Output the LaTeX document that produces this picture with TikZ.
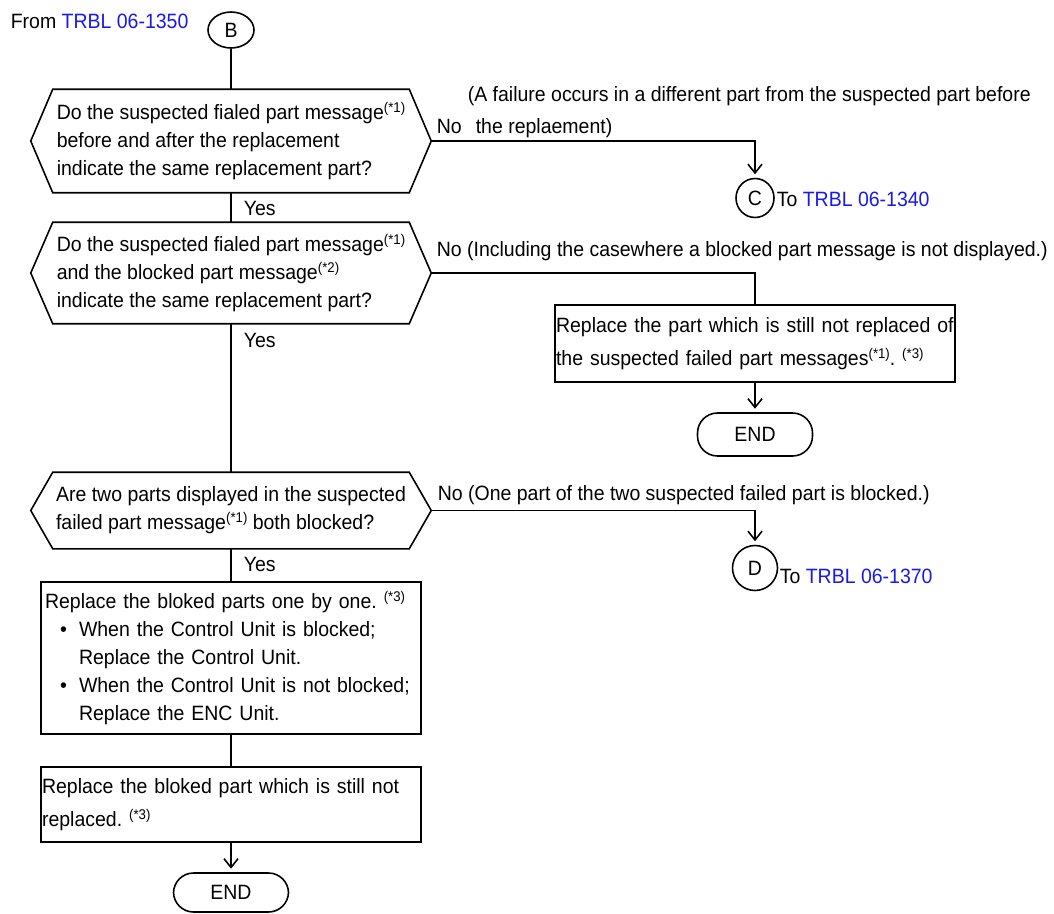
\documentclass[tikz,border=0pt]{standalone}
\usepackage{fontspec}
\setmainfont[FakeStretch=0.94]{Liberation Sans}
\usepackage{tikz}
\usetikzlibrary{arrows.meta,shapes.geometric}
\definecolor{linkblue}{RGB}{25,25,235}
\newcommand{\fnote}[1]{\raisebox{4pt}{\fontsize{8}{8}\selectfont(*#1)}}
\newcommand{\trbl}[1]{\textcolor{linkblue}{TRBL #1}}
\newcommand{\bul}{\makebox[0.68cm][r]{\textbullet\hspace{0.24cm}}}
\tikzset{decision/.style={align=left,inner sep=0pt,minimum width=7.98cm}}
\tikzset{process/.style={draw,align=left,inner ysep=0pt}}
\tikzset{terminal/.style={draw,rounded corners=0.4cm,minimum width=2.3cm}}
\tikzset{connector/.style={draw,ellipse,inner sep=0pt}}
\tikzset{note/.style={anchor=base west,inner sep=0pt}}
\tikzset{flowline/.style={-{Straight Barb[length=5pt,width=8pt]},shorten >=2pt}}
\frenchspacing

\begin{document}
\begin{tikzpicture}[x=0.02cm,y=-0.02cm,line width=0.9pt,
        font=\fontsize{11.8}{16}\selectfont]
    \useasboundingbox (0,0) rectangle (1054,913);
    \node[note] (from) at (10,28) {From \trbl{06-1350}};
    \node[connector,minimum width=0.92cm,minimum height=0.72cm] (B) at (231,30) {B};
    \node[decision,minimum height=2.04cm] (dec1) at (231,141)
        {Do the suspected fialed part message\fnote1\\
         before and after the replacement\\
         indicate the same replacement part?};
    \node[decision,minimum height=2cm] (dec2) at (231,273)
        {Do the suspected fialed part message\fnote1\\
         and the blocked part message\fnote2\\
         indicate the same replacement part?};
    \node[decision,minimum height=1.5cm] (dec3) at (231,510.5)
        {Are two parts displayed in the suspected\\
         failed part message\fnote1{} both blocked?};
    \foreach \d in {dec1,dec2,dec3}
        \draw (\d.west) -- ([xshift=0.44cm]\d.north west) -- ([xshift=-0.44cm]\d.north east)
            -- (\d.east) -- ([xshift=-0.44cm]\d.south east) -- ([xshift=0.44cm]\d.south west) -- cycle;
    \node[process,minimum height=3.04cm,text width=7.44cm,inner xsep=0.08cm] (rep1) at (231,658)
        {Replace the bloked parts one by one. \fnote3\\
         \bul When the Control Unit is blocked;\\
         \hspace*{0.68cm}Replace the Control Unit.\\
         \bul When the Control Unit is not blocked;\\
         \hspace*{0.68cm}Replace the ENC Unit.};
    \node[process,minimum height=1.5cm,text width=7.56cm,inner xsep=0.02cm,
        font=\fontsize{11.8}{18.7}\selectfont] (rep2) at (231,804.5)
        {Replace the bloked part which is still not\\
         replaced. \fnote3};
    \node[process,minimum height=1.54cm,text width=7.96cm,inner xsep=0.02cm,
        font=\fontsize{11.8}{18.7}\selectfont] (rep3) at (755,343.5)
        {Replace the part which is still not replaced of\\
         the suspected failed part messages\fnote1. \fnote3};
    \node[terminal,minimum height=0.86cm] (end1) at (755,434.5) {END};
    \node[terminal,minimum height=0.78cm] (end2) at (231,892.5) {END};
    \node[connector,minimum width=0.76cm,minimum height=0.78cm] (C) at (755,198) {C};
    \node[note] (toC) at (776,206) {To \trbl{06-1340}};
    \node[connector,minimum width=0.9cm,minimum height=0.9cm] (D) at (755,568) {D};
    \node[note] (toD) at (779,583) {To \trbl{06-1370}};
    \node[note] (yes1) at (243,215) {Yes};
    \node[note] (yes2) at (243,347) {Yes};
    \node[note] (yes3) at (243,571) {Yes};
    \node[note] (no1) at (436,133) {No};
    \node[note] (why1) at (467,101) {(A failure occurs in a different part from the suspected part before};
    \node[note] (why2) at (475,133) {the replaement)};
    \node[note] (no2) at (436,256) {No (Including the casewhere a blocked part message is not displayed.)};
    \node[note] (no3) at (437,500) {No (One part of the two suspected failed part is blocked.)};
    \draw (B.south) -- (dec1.north);
    \draw (dec1.south) -- (dec2.north);
    \draw (dec2.south) -- (dec3.north);
    \draw (dec3.south) -- (rep1.north);
    \draw (rep1.south) -- (rep2.north);
    \draw[flowline] (rep2.south) -- (end2.north);
    \draw[flowline] (dec1.east) -| (C.north);
    \draw (dec2.east) -| (rep3.north);
    \draw[flowline] (rep3.south) -- (end1.north);
    \draw[flowline] (dec3.east) -| (D.north);
\end{tikzpicture}
\end{document}
